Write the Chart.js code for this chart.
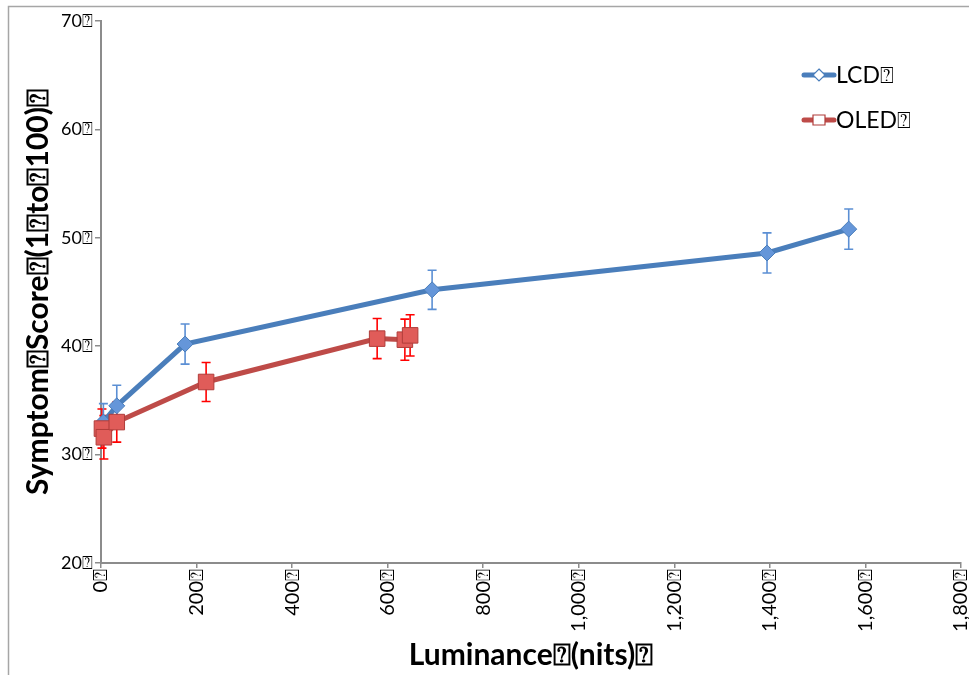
<!DOCTYPE html>
<html>
<head>
<meta charset="utf-8">
<script src="https://cdn.jsdelivr.net/npm/chart.js@4/dist/chart.umd.min.js"></script>
<style>
html,body{margin:0;padding:0;background:#fff;}
#wrap{position:relative;width:969px;height:675px;}
</style>
</head>
<body>
<div id="wrap"><canvas id="c"></canvas></div>
<script>
const seriesNames = ['LCD⍰', 'OLED⍰'];
const lcdLuminance = [5, 33, 176, 693, 1394, 1565];
const lcdScore = [33.0, 34.5, 40.2, 45.2, 48.6, 50.8];
const lcdError = [1.7, 1.9, 1.85, 1.8, 1.85, 1.85];
const oledLuminance = [2, 6, 33, 220, 578, 636, 647];
const oledScore = [32.4, 31.6, 33.0, 36.7, 40.7, 40.6, 41.0];
const oledError = [1.8, 2.0, 1.85, 1.8, 1.85, 1.9, 1.9];
const xTickValues = [0, 200, 400, 600, 800, 1000, 1200, 1400, 1600, 1800];
const yTickValues = [20, 30, 40, 50, 60, 70];
const xTitle = 'Luminance⍰(nits)⍰';
const yTitle = 'Symptom⍰Score⍰(1⍰to⍰100)⍰';

const FONT = 'Lato, "Open Sans", sans-serif';

const toPoints = (xs, ys) => xs.map((x, i) => ({x: x, y: ys[i]}));

const borderPlugin = {
  id: 'outerBorder',
  beforeDraw(chart) {
    const ctx = chart.ctx;
    ctx.save();
    ctx.fillStyle = '#fff';
    ctx.fillRect(0, 0, chart.width, chart.height);
    ctx.strokeStyle = '#a6a6a6';
    ctx.lineWidth = 1.5;
    ctx.strokeRect(8.5, 6.5, 1200, 1200);
    ctx.restore();
  }
};

const errorBarPlugin = {
  id: 'errorBars',
  beforeDatasetsDraw(chart) {
    const ctx = chart.ctx;
    const xs = chart.scales.x, ys = chart.scales.y;
    ctx.save();
    chart.data.datasets.forEach(ds => {
      ctx.strokeStyle = ds.errorColor;
      ctx.lineWidth = 1.6;
      ds.data.forEach((p, j) => {
        const e = ds.errors[j];
        const x = xs.getPixelForValue(p.x);
        const yT = ys.getPixelForValue(p.y + e);
        const yB = ys.getPixelForValue(p.y - e);
        ctx.beginPath();
        ctx.moveTo(x, yT); ctx.lineTo(x, yB);
        ctx.moveTo(x - 4.5, yT); ctx.lineTo(x + 4.5, yT);
        ctx.moveTo(x - 4.5, yB); ctx.lineTo(x + 4.5, yB);
        ctx.stroke();
      });
    });
    ctx.restore();
  }
};

const legendPlugin = {
  id: 'customLegend',
  afterDraw(chart) {
    const ctx = chart.ctx;
    const items = [chart.data.datasets[1], chart.data.datasets[0]];
    ctx.save();
    items.forEach((ds, i) => {
      const y = 75 + i * 45;
      ctx.strokeStyle = ds.borderColor;
      ctx.lineWidth = 5;
      ctx.lineCap = 'round';
      ctx.beginPath();
      ctx.moveTo(804, y); ctx.lineTo(834, y);
      ctx.stroke();
      ctx.lineCap = 'butt';
      ctx.lineWidth = 1.2;
      ctx.fillStyle = '#fff';
      ctx.strokeStyle = ds.pointBorderColor;
      ctx.beginPath();
      if (ds.pointStyle === 'rectRot') {
        ctx.moveTo(819, y - 6); ctx.lineTo(825, y); ctx.lineTo(819, y + 6); ctx.lineTo(813, y); ctx.closePath();
      } else {
        ctx.rect(813, y - 5, 12, 10);
      }
      ctx.fill(); ctx.stroke();
      ctx.fillStyle = '#000';
      ctx.font = '23px ' + FONT;
      ctx.textBaseline = 'middle';
      ctx.textAlign = 'left';
      ctx.fillText(ds.label, 836, y + 1);
    });
    ctx.restore();
  }
};

new Chart(document.getElementById('c'), {
  type: 'scatter',
  data: {
    datasets: [
      {
        label: seriesNames[1],
        data: toPoints(oledLuminance, oledScore),
        errors: oledError,
        errorColor: '#ff0000',
        showLine: true,
        clip: false,
        borderColor: '#be4b48',
        borderWidth: 5,
        pointStyle: 'rect',
        pointRadius: 11,
        pointHoverRadius: 11,
        pointBackgroundColor: '#e05c59',
        pointBorderColor: '#b03d3a',
        pointBorderWidth: 1,
        order: 0
      },
      {
        label: seriesNames[0],
        data: toPoints(lcdLuminance, lcdScore),
        errors: lcdError,
        errorColor: '#5b8fd4',
        showLine: true,
        clip: false,
        borderColor: '#4a7ebb',
        borderWidth: 5,
        pointStyle: 'rectRot',
        pointRadius: 8,
        pointHoverRadius: 8,
        pointBackgroundColor: '#6596d9',
        pointBorderColor: '#4a7ebb',
        pointBorderWidth: 1,
        order: 1
      }
    ]
  },
  options: {
    responsive: true,
    maintainAspectRatio: false,
    animation: false,
    events: [],
    layout: { autoPadding: false, padding: { left: 8, top: 21, right: 8, bottom: 0 } },
    plugins: { legend: { display: false }, tooltip: { enabled: false } },
    scales: {
      x: {
        type: 'linear',
        min: 0, max: 1800,
        afterBuildTicks: s => { s.ticks = xTickValues.map(v => ({value: v})); },
        afterFit: s => { s.height = 112; s.paddingLeft = 0; s.paddingRight = 0; },
        grid: { drawOnChartArea: false, tickLength: 5, color: '#8c8c8c', lineWidth: 1.5 },
        border: { color: '#8c8c8c', width: 2 },
        ticks: {
          minRotation: 90, maxRotation: 90, padding: 1,
          color: '#000',
          font: { family: FONT, size: 20 },
          callback: v => v.toLocaleString('en-US') + '⍰'
        },
        title: {
          display: true, text: xTitle, color: '#000',
          font: { family: FONT, size: 30, weight: 'bold' },
          padding: { top: 0, bottom: 2 }
        }
      },
      y: {
        type: 'linear',
        min: 20, max: 70,
        afterBuildTicks: s => { s.ticks = yTickValues.map(v => ({value: v})); },
        afterFit: s => { s.width = 93; s.paddingTop = 0; s.paddingBottom = 0; },
        grid: { drawOnChartArea: false, tickLength: 6, color: '#8c8c8c', lineWidth: 1.5 },
        border: { color: '#8c8c8c', width: 2 },
        ticks: {
          padding: 2, color: '#000',
          font: { family: FONT, size: 18 },
          callback: v => v + '⍰'
        },
        title: {
          display: true, text: yTitle, color: '#000',
          font: { family: FONT, size: 30, weight: 'bold' },
          padding: { top: 12, bottom: 0 }
        }
      }
    }
  },
  plugins: [borderPlugin, errorBarPlugin, legendPlugin]
});
</script>
</body>
</html>
